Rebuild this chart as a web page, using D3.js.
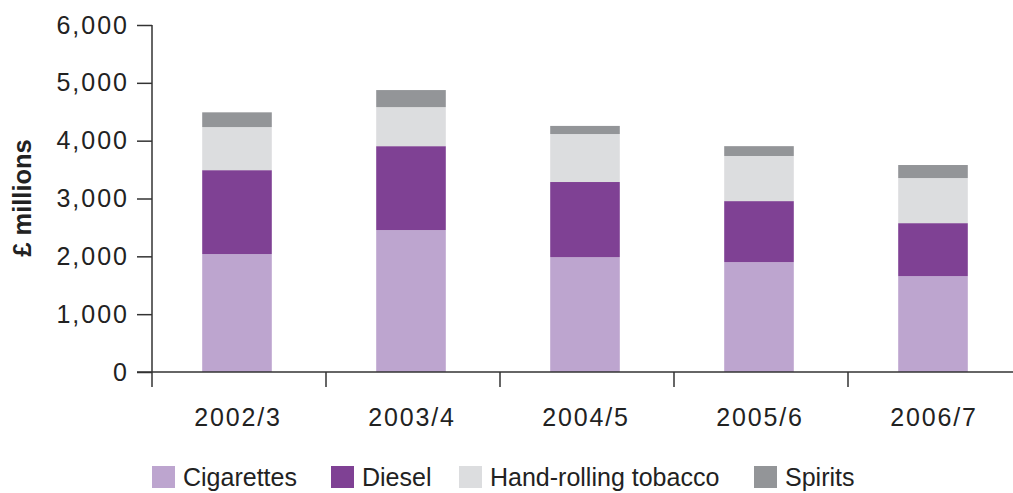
<!DOCTYPE html>
<html><head><meta charset="utf-8">
<script src="https://cdn.jsdelivr.net/npm/d3@7"></script>
<style>body{margin:0;background:#fff}svg{display:block}</style>
</head><body><svg id="c" width="1013" height="493"></svg>
<script>
const categories = ["2002/3","2003/4","2004/5","2005/6","2006/7"];
const seriesNames = ["Cigarettes","Diesel","Hand-rolling tobacco","Spirits"];
const cigarettes = [2040, 2455, 1985, 1900, 1657];
const diesel = [1450, 1450, 1300, 1055, 917];
const handRolling = [745, 675, 830, 780, 780];
const spirits = [255, 295, 140, 170, 225];
const yTicks = [0,1000,2000,3000,4000,5000,6000];
const colors = ["#bda5cf","#7f4194","#dcdddf","#939598"];

const svg = d3.select("#c");
const font = "'Liberation Sans', Arial, sans-serif";
const x = d3.scaleBand().domain(categories).range([150,1020]).paddingInner(0.6).paddingOuter(0.3);
const xOuter = d3.scaleBand().domain(categories).range([152,1022]).padding(0);
const y = d3.scaleLinear().domain([0,6000]).range([372,25]);

const rows = categories.map((c,i)=>({cat:c, Cigarettes:cigarettes[i], Diesel:diesel[i], "Hand-rolling tobacco":handRolling[i], Spirits:spirits[i]}));
const stacked = d3.stack().keys(seriesNames)(rows);

svg.append("g").selectAll("g").data(stacked).join("g")
  .attr("fill",(d,i)=>colors[i])
  .selectAll("rect").data(d=>d).join("rect")
  .attr("x",d=>x(d.data.cat)).attr("width",x.bandwidth())
  .attr("y",d=>y(d[1])).attr("height",d=>y(d[0])-y(d[1]));

const axc = "#333";
// y axis
const yAxis = svg.append("g").attr("transform","translate(152,0)")
  .call(d3.axisLeft(y).tickValues(yTicks).tickSize(15).tickPadding(8).tickFormat(d3.format(",")));
yAxis.select(".domain").remove();
yAxis.selectAll("line").attr("stroke",axc).attr("stroke-width",1.5);
yAxis.selectAll("text").attr("font-family",font).attr("font-size",25).attr("letter-spacing",2).attr("fill","#222");
svg.append("line").attr("x1",152).attr("x2",152).attr("y1",y(6000)).attr("y2",387).attr("stroke",axc).attr("stroke-width",1.5);
// x axis
svg.append("line").attr("x1",137).attr("x2",1013).attr("y1",372).attr("y2",372).attr("stroke",axc).attr("stroke-width",1.5);
const bounds = categories.map(c=>xOuter(c)).concat([xOuter(categories[4])+xOuter.bandwidth()]).slice(1);
svg.append("g").selectAll("line").data(bounds).join("line")
  .attr("x1",d=>d).attr("x2",d=>d).attr("y1",372).attr("y2",387).attr("stroke",axc).attr("stroke-width",1.5);
svg.append("g").selectAll("text").data(categories).join("text")
  .attr("x",d=>x(d)+x.bandwidth()/2+1).attr("y",426)
  .attr("text-anchor","middle").attr("font-family",font).attr("font-size",25).attr("letter-spacing",1.8).attr("fill","#222").text(d=>d);
// y title
svg.append("text").attr("transform","translate(31,198) rotate(-90)").attr("text-anchor","middle")
  .attr("font-family",font).attr("font-weight","bold").attr("font-size",25.5).attr("fill","#222").text("£ millions");
// legend
const legX = [152,331,459,754];
const leg = svg.append("g").selectAll("g").data(seriesNames).join("g")
  .attr("transform",(d,i)=>`translate(${legX[i]},466)`);
leg.append("rect").attr("width",23).attr("height",22).attr("fill",(d,i)=>colors[i]);
leg.append("text").attr("x",31).attr("y",20).attr("font-family",font).attr("font-size",25).attr("fill","#222").text(d=>d);
</script></body></html>
